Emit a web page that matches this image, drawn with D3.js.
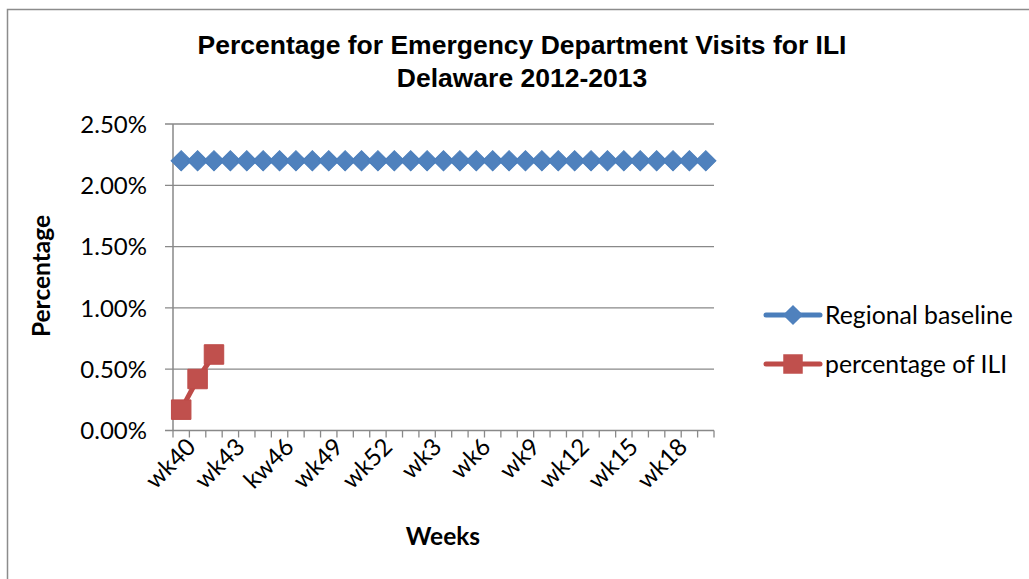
<!DOCTYPE html>
<html><head><meta charset="utf-8">
<script src="https://cdn.jsdelivr.net/npm/d3@7"></script>
<style>body{margin:0;background:#fff;overflow:hidden}</style></head>
<body>
<script>
const weeks = ["wk40","wk41","wk42","wk43","wk44","wk45","kw46","wk47","wk48","wk49","wk50","wk51","wk52",
  "wk1","wk2","wk3","wk4","wk5","wk6","wk7","wk8","wk9","wk10","wk11","wk12","wk13","wk14","wk15","wk16","wk17","wk18","wk19","wk20"];
const regionalBaseline = [2.2,2.2,2.2,2.2,2.2,2.2,2.2,2.2,2.2,2.2,2.2,2.2,2.2,2.2,2.2,2.2,2.2,2.2,2.2,2.2,2.2,2.2,2.2,2.2,2.2,2.2,2.2,2.2,2.2,2.2,2.2,2.2,2.2];
const percentageILI = [0.17, 0.42, 0.62];
const yTicks = [0, 0.5, 1.0, 1.5, 2.0, 2.5];
const labelEvery = 3;
const titleLines = ["Percentage for Emergency Department Visits for ILI", "Delaware 2012-2013"];
const seriesNames = ["Regional baseline", "percentage of ILI"];

const W = 1029, H = 579;
const body = "Lato, 'Open Sans', sans-serif";
const svg = d3.select("body").append("svg").attr("width", W).attr("height", H);

svg.append("rect").attr("x", 7.5).attr("y", 9.5).attr("width", 1100).attr("height", 700)
  .attr("fill", "#fff").attr("stroke", "#8c8c8c").attr("stroke-width", 1.5);

const L = 173, R = 714, T = 124, B = 430.5;
const x = d3.scaleBand().domain(weeks).range([L, R]);
const y = d3.scaleLinear().domain([0, 2.5]).range([B, T]);

// gridlines
svg.append("g").selectAll("line").data(yTicks.filter(d => d > 0)).join("line")
  .attr("x1", L - 8).attr("x2", R).attr("y1", d => y(d)).attr("y2", d => y(d))
  .attr("stroke", "#898989").attr("stroke-width", 1.3);

// axes
svg.append("line").attr("x1", L).attr("x2", L).attr("y1", T).attr("y2", B)
  .attr("stroke", "#898989").attr("stroke-width", 1.5);
svg.append("line").attr("x1", L - 8).attr("x2", R).attr("y1", B).attr("y2", B)
  .attr("stroke", "#898989").attr("stroke-width", 1.5);

svg.append("g").selectAll("text").data(yTicks).join("text")
  .attr("x", 147).attr("y", d => y(d)).attr("dy", "0.36em")
  .attr("text-anchor", "end").attr("font-family", body).attr("font-size", 24)
  .attr("fill", "#000").text(d => d3.format(".2%")(d / 100));

// x ticks at category boundaries
const bounds = weeks.map(w => x(w)).concat([x(weeks[weeks.length - 1]) + x.bandwidth()]);
svg.append("g").selectAll("line").data(bounds).join("line")
  .attr("x1", d => d).attr("x2", d => d).attr("y1", B).attr("y2", B + 7)
  .attr("stroke", "#898989").attr("stroke-width", 1.3);

// x labels
svg.append("g").selectAll("text").data(weeks.filter((d, i) => i % labelEvery === 0)).join("text")
  .attr("transform", d => `translate(${x(d) + x.bandwidth() / 2 + 4},${B + 6}) rotate(-45)`)
  .attr("text-anchor", "end").attr("dy", "0.7em")
  .attr("font-family", body).attr("font-size", 24).attr("fill", "#000").text(d => d);

// series
const blue = "#4a7ebb", red = "#be4b48";
const cx = d => x(d) + x.bandwidth() / 2;
const line = d3.line().x((d, i) => cx(weeks[i])).y(d => y(d));
svg.append("path").datum(regionalBaseline).attr("d", line).attr("fill", "none")
  .attr("stroke", blue).attr("stroke-width", 5);
svg.append("path").datum(percentageILI).attr("d", line).attr("fill", "none")
  .attr("stroke", red).attr("stroke-width", 5);

const diamond = d3.symbol().type(d3.symbolSquare).size(205);
svg.append("g").selectAll("path").data(regionalBaseline).join("path")
  .attr("d", diamond)
  .attr("transform", (d, i) => `translate(${cx(weeks[i])},${y(d)}) rotate(45)`)
  .attr("fill", "#4f81bd").attr("stroke", blue).attr("stroke-width", 1);
const sq = d3.symbol().type(d3.symbolSquare).size(380);
svg.append("g").selectAll("path").data(percentageILI).join("path")
  .attr("d", sq)
  .attr("transform", (d, i) => `translate(${cx(weeks[i])},${y(d)})`)
  .attr("fill", "#c0504d").attr("stroke", red).attr("stroke-width", 1);

// legend
const legY = [315, 364];
const lg = svg.append("g");
seriesNames.forEach((name, i) => {
  const col = i === 0 ? blue : red;
  lg.append("line").attr("x1", 766).attr("x2", 820).attr("y1", legY[i]).attr("y2", legY[i])
    .attr("stroke", col).attr("stroke-width", 5).attr("stroke-linecap", "round");
  lg.append("path").attr("d", i === 0 ? diamond() : sq())
    .attr("transform", `translate(793,${legY[i]})` + (i === 0 ? " rotate(45)" : ""))
    .attr("fill", i === 0 ? "#4f81bd" : "#c0504d");
  lg.append("text").attr("x", 825).attr("y", legY[i]).attr("dy", "0.36em")
    .attr("font-family", body).attr("font-size", 24.8).attr("fill", "#000").text(name);
});

// titles
svg.append("g").selectAll("text").data(titleLines).join("text")
  .attr("x", 522).attr("y", (d, i) => 53.5 + i * 33.5).attr("text-anchor", "middle")
  .attr("font-family", "'Liberation Sans', Arial, sans-serif").attr("font-weight", "bold")
  .attr("font-size", 26.5).attr("fill", "#000").text(d => d);

svg.append("text").attr("transform", "translate(50,276) rotate(-90)").attr("text-anchor", "middle")
  .attr("font-family", body).attr("font-weight", "bold").attr("font-size", 24.5).text("Percentage");
svg.append("text").attr("x", 443).attr("y", 545).attr("text-anchor", "middle")
  .attr("font-family", body).attr("font-weight", "bold").attr("font-size", 24.5).text("Weeks");
</script>
</body></html>
